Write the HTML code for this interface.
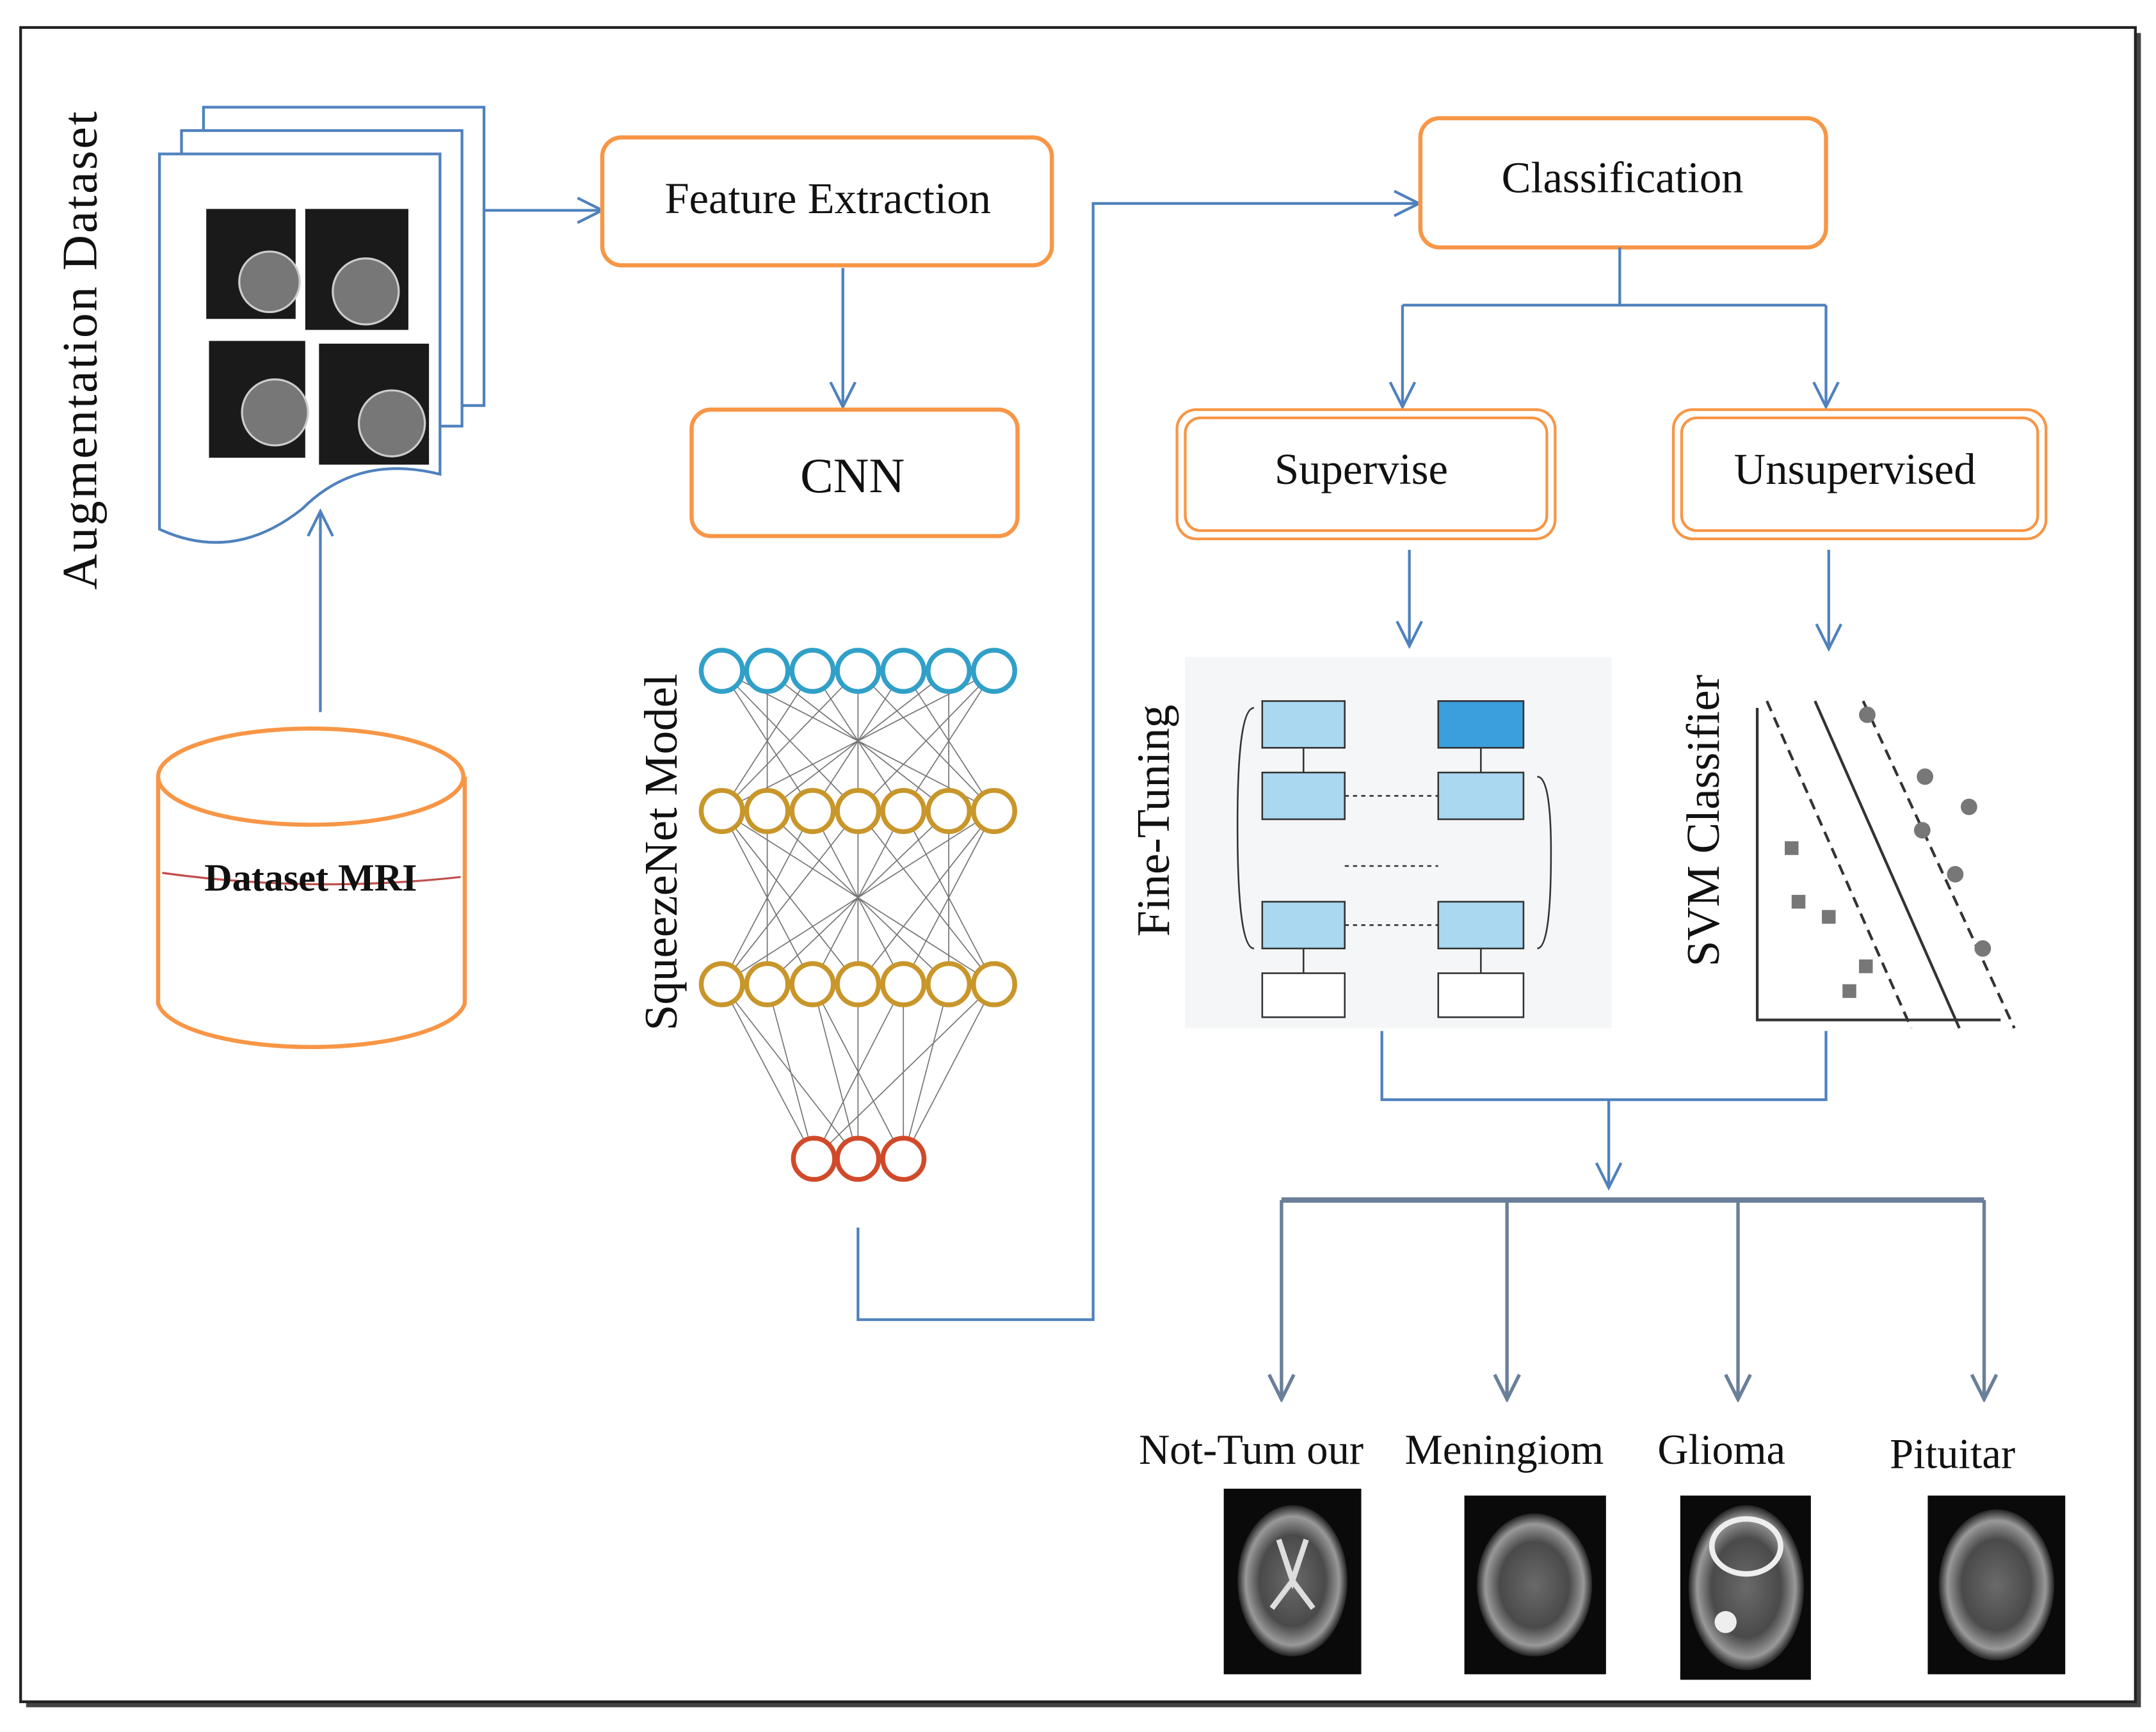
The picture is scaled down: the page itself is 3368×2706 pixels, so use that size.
<!DOCTYPE html>
<html><head><meta charset="utf-8"><style>
html,body{margin:0;padding:0;background:#fff;}
svg{display:block;}
text{font-family:"Liberation Serif",serif;}
</style></head><body>
<svg width="3368" height="2706" viewBox="0 0 1568 1260" preserveAspectRatio="none" xmlns="http://www.w3.org/2000/svg">
<defs>
<marker id="ar" markerWidth="22" markerHeight="22" refX="20" refY="11" orient="auto" markerUnits="userSpaceOnUse">
<path d="M2,2 L20,11 L2,20" fill="none" stroke="#4f81bd" stroke-width="2"/></marker>
<marker id="ag" markerWidth="22" markerHeight="22" refX="20" refY="11" orient="auto" markerUnits="userSpaceOnUse">
<path d="M2,2 L20,11 L2,20" fill="none" stroke="#6a7f99" stroke-width="2.5"/></marker>
<radialGradient id="brain" cx="50%" cy="50%" r="50%"><stop offset="0" stop-color="#6a6a6a"/><stop offset="0.6" stop-color="#4a4a4a"/><stop offset="0.85" stop-color="#999"/><stop offset="1" stop-color="#222"/></radialGradient>
</defs>
<rect x="0" y="0" width="1568" height="1260" fill="#fff"/>
<rect x="19" y="24" width="1538" height="1218" fill="#444"/>
<rect x="15" y="20" width="1538" height="1218" fill="#fff" stroke="#222" stroke-width="2"/>

<g fill="#fff" stroke="#4f81bd" stroke-width="2">
<path d="M148,78 H352 V295 H148 Z"/>
<path d="M132,95 H336 V310 H132 Z"/>
<path d="M116,112 H320 V345 Q260,330 220,370 Q170,410 116,385 Z"/>
</g>
<g fill="#1a1a1a">
<rect x="150" y="152" width="65" height="80"/><rect x="222" y="152" width="75" height="88"/>
<rect x="152" y="248" width="70" height="85"/><rect x="232" y="250" width="80" height="88"/>
</g>
<g fill="#777" stroke="#ccc" stroke-width="1.5">
<circle cx="196" cy="205" r="22"/><circle cx="266" cy="212" r="24"/><circle cx="200" cy="300" r="24"/><circle cx="285" cy="308" r="24"/>
</g>
<text transform="translate(70,255) rotate(-90)" font-size="36" text-anchor="middle" fill="#111" textLength="348" lengthAdjust="spacing">Augmentation  Dataset</text>

<path d="M115,565 V730 A112,35 0 0 0 338,730 V565" fill="#fff" stroke="#f79646" stroke-width="3"/>
<ellipse cx="226" cy="565" rx="111" ry="35" fill="#fff" stroke="#f79646" stroke-width="3"/>
<path d="M118,635 Q226,650 335,638" fill="none" stroke="#c0504d" stroke-width="1.5"/>
<text x="226" y="648" font-size="28" font-weight="bold" text-anchor="middle" fill="#111">Dataset MRI</text>
<line x1="233" y1="518" x2="233" y2="372" stroke="#4f81bd" stroke-width="2" marker-end="url(#ar)"/>

<line x1="352" y1="153" x2="438" y2="153" stroke="#4f81bd" stroke-width="2" marker-end="url(#ar)"/>
<rect x="438" y="100" width="327" height="93" rx="14" fill="#fff" stroke="#f79646" stroke-width="3"/>
<text x="602" y="155" font-size="32" text-anchor="middle" fill="#111">Feature Extraction</text>
<line x1="613" y1="195" x2="613" y2="296" stroke="#4f81bd" stroke-width="2" marker-end="url(#ar)"/>
<rect x="503" y="298" width="237" height="92" rx="14" fill="#fff" stroke="#f79646" stroke-width="3"/>
<text x="620" y="358" font-size="36" text-anchor="middle" fill="#111">CNN</text>

<text transform="translate(492,620) rotate(-90)" font-size="34" text-anchor="middle" fill="#111">SqueezeNet  Model</text>
<g stroke="#555" stroke-width="0.8" opacity="0.8">
<path d="M525,488 L723,590 M723,488 L525,590 M558,488 L690,590 M690,488 L558,590 M591,488 L657,590 M657,488 L591,590 M525,488 L624,590 M624,488 L525,590 M723,488 L624,590 M624,488 L723,590 M558,488 L558,590 M624,488 L624,590 M690,488 L690,590 M525,488 L591,590 M591,488 L525,590 M657,488 L723,590 M723,488 L657,590"/>
<path d="M525,590 L723,716 M723,590 L525,716 M558,590 L690,716 M690,590 L558,716 M591,590 L657,716 M657,590 L591,716 M525,590 L624,716 M624,590 L525,716 M723,590 L624,716 M624,590 L723,716 M558,590 L558,716 M624,590 L624,716 M690,590 L690,716 M525,590 L591,716 M591,590 L525,716 M657,590 L723,716 M723,590 L657,716"/>
<path d="M525,716 L592,843 M558,716 L592,843 M591,716 L624,843 M624,716 L624,843 M657,716 L657,843 M690,716 L657,843 M723,716 L657,843 M525,716 L624,843 M723,716 L592,843 M591,716 L657,843 M657,716 L592,843"/>
</g>
<g fill="#fff" stroke-width="3.5">
<g stroke="#31a0c8"><circle cx="525" cy="488" r="15"/><circle cx="558" cy="488" r="15"/><circle cx="591" cy="488" r="15"/><circle cx="624" cy="488" r="15"/><circle cx="657" cy="488" r="15"/><circle cx="690" cy="488" r="15"/><circle cx="723" cy="488" r="15"/></g>
<g stroke="#c8962a"><circle cx="525" cy="590" r="15"/><circle cx="558" cy="590" r="15"/><circle cx="591" cy="590" r="15"/><circle cx="624" cy="590" r="15"/><circle cx="657" cy="590" r="15"/><circle cx="690" cy="590" r="15"/><circle cx="723" cy="590" r="15"/>
<circle cx="525" cy="716" r="15"/><circle cx="558" cy="716" r="15"/><circle cx="591" cy="716" r="15"/><circle cx="624" cy="716" r="15"/><circle cx="657" cy="716" r="15"/><circle cx="690" cy="716" r="15"/><circle cx="723" cy="716" r="15"/></g>
<g stroke="#d04a2a"><circle cx="592" cy="843" r="15"/><circle cx="624" cy="843" r="15"/><circle cx="657" cy="843" r="15"/></g>
</g>

<polyline points="624,893 624,960 795,960 795,148 1032,148" fill="none" stroke="#4f81bd" stroke-width="2" marker-end="url(#ar)"/>
<rect x="1033" y="86" width="295" height="94" rx="14" fill="#fff" stroke="#f79646" stroke-width="3"/>
<text x="1180" y="140" font-size="32" text-anchor="middle" fill="#111">Classification</text>
<polyline points="1178,180 1178,222" fill="none" stroke="#4f81bd" stroke-width="2"/>
<polyline points="1020,222 1328,222" fill="none" stroke="#4f81bd" stroke-width="2"/>
<line x1="1020" y1="222" x2="1020" y2="296" stroke="#4f81bd" stroke-width="2" marker-end="url(#ar)"/>
<line x1="1328" y1="222" x2="1328" y2="296" stroke="#4f81bd" stroke-width="2" marker-end="url(#ar)"/>

<g fill="#fff" stroke="#f79646" stroke-width="2">
<rect x="856" y="298" width="275" height="94" rx="14"/><rect x="862" y="304" width="263" height="82" rx="11"/>
<rect x="1217" y="298" width="271" height="94" rx="14"/><rect x="1223" y="304" width="259" height="82" rx="11"/>
</g>
<text x="990" y="352" font-size="32" text-anchor="middle" fill="#111">Supervise</text>
<text x="1349" y="352" font-size="32" text-anchor="middle" fill="#111">Unsupervised</text>
<line x1="1025" y1="400" x2="1025" y2="470" stroke="#4f81bd" stroke-width="2" marker-end="url(#ar)"/>
<line x1="1330" y1="400" x2="1330" y2="472" stroke="#4f81bd" stroke-width="2" marker-end="url(#ar)"/>

<text transform="translate(850,597) rotate(-90)" font-size="34" text-anchor="middle" fill="#111">Fine-Tuning</text>
<rect x="862" y="478" width="310" height="270" fill="#f4f6f8"/>
<g stroke="#333" stroke-width="1.2">
<rect x="918" y="510" width="60" height="34" fill="#a9d8f0"/><rect x="1046" y="510" width="62" height="34" fill="#3a9fdc"/>
<rect x="918" y="562" width="60" height="34" fill="#a9d8f0"/><rect x="1046" y="562" width="62" height="34" fill="#a9d8f0"/>
<rect x="918" y="656" width="60" height="34" fill="#a9d8f0"/><rect x="1046" y="656" width="62" height="34" fill="#a9d8f0"/>
<rect x="918" y="708" width="60" height="32" fill="#fff"/><rect x="1046" y="708" width="62" height="32" fill="#fff"/>
<line x1="948" y1="544" x2="948" y2="562"/><line x1="1077" y1="544" x2="1077" y2="562"/>
<line x1="948" y1="690" x2="948" y2="708"/><line x1="1077" y1="690" x2="1077" y2="708"/>
<line x1="978" y1="579" x2="1046" y2="579" stroke-dasharray="3,3"/><line x1="978" y1="673" x2="1046" y2="673" stroke-dasharray="3,3"/>
<line x1="978" y1="630" x2="1046" y2="630" stroke-dasharray="3,3"/>
<path d="M912,515 Q900,515 900,600 Q900,690 912,690" fill="none"/>
<path d="M1118,565 Q1128,565 1128,620 Q1128,690 1118,690" fill="none"/>
</g>

<text transform="translate(1250,597) rotate(-90)" font-size="34" text-anchor="middle" fill="#111">SVM Classifier</text>
<rect x="1258" y="495" width="222" height="255" fill="#fff"/>
<g stroke="#333" stroke-width="2" fill="none">
<polyline points="1278,515 1278,742 1455,742"/>
<line x1="1320" y1="510" x2="1425" y2="748"/>
<line x1="1285" y1="510" x2="1390" y2="748" stroke-dasharray="8,5"/>
<line x1="1355" y1="510" x2="1465" y2="748" stroke-dasharray="8,5"/>
</g>
<g fill="#777"><circle cx="1358" cy="520" r="6"/><circle cx="1400" cy="565" r="6"/><circle cx="1432" cy="587" r="6"/><circle cx="1398" cy="604" r="6"/><circle cx="1422" cy="636" r="6"/><circle cx="1442" cy="690" r="6"/>
<rect x="1298" y="612" width="10" height="10"/><rect x="1303" y="651" width="10" height="10"/><rect x="1325" y="662" width="10" height="10"/><rect x="1352" y="698" width="10" height="10"/><rect x="1340" y="716" width="10" height="10"/></g>

<polyline points="1005,750 1005,800 1328,800 1328,750" fill="none" stroke="#4f81bd" stroke-width="2"/>
<line x1="1170" y1="800" x2="1170" y2="864" stroke="#4f81bd" stroke-width="2" marker-end="url(#ar)"/>

<line x1="932" y1="873" x2="1443" y2="873" stroke="#6a7f99" stroke-width="4"/>
<g stroke="#6a7f99" stroke-width="2.5">
<line x1="932" y1="873" x2="932" y2="1018" marker-end="url(#ag)"/>
<line x1="1096" y1="873" x2="1096" y2="1018" marker-end="url(#ag)"/>
<line x1="1264" y1="873" x2="1264" y2="1018" marker-end="url(#ag)"/>
<line x1="1443" y1="873" x2="1443" y2="1018" marker-end="url(#ag)"/>
</g>
<g font-size="31" fill="#111" text-anchor="middle">
<text x="910" y="1065">Not-Tum our</text>
<text x="1094" y="1065">Meningiom</text>
<text x="1252" y="1065">Glioma</text>
<text x="1420" y="1068">Pituitar</text>
</g>
<rect x="890" y="1083" width="100" height="135" fill="#0a0a0a"/><ellipse cx="940" cy="1150" rx="40" ry="55" fill="url(#brain)"/>
<path d="M930,1120 L940,1150 L950,1120 M925,1170 L940,1150 L955,1170" stroke="#ddd" stroke-width="4" fill="none"/>
<rect x="1065" y="1088" width="103" height="130" fill="#0a0a0a"/><ellipse cx="1116" cy="1153" rx="42" ry="52" fill="url(#brain)"/>
<rect x="1222" y="1088" width="95" height="134" fill="#0a0a0a"/><ellipse cx="1270" cy="1155" rx="42" ry="60" fill="url(#brain)"/>
<ellipse cx="1270" cy="1125" rx="25" ry="20" fill="none" stroke="#eee" stroke-width="4"/><circle cx="1255" cy="1180" r="8" fill="#eee"/>
<rect x="1402" y="1088" width="100" height="130" fill="#0a0a0a"/><ellipse cx="1452" cy="1153" rx="42" ry="55" fill="url(#brain)"/>
</svg>
</body></html>
